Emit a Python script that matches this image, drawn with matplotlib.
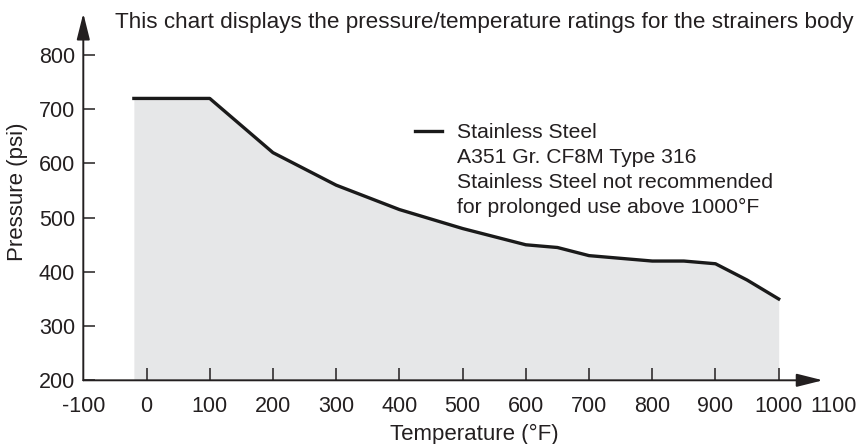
import matplotlib.pyplot as plt
from matplotlib.transforms import ScaledTranslation

plt.rcParams['font.family'] = ['Liberation Sans', 'DejaVu Sans']
plt.rcParams['axes.unicode_minus'] = False
ink = '#231f20'
plt.rcParams['text.color'] = ink
plt.rcParams['axes.labelcolor'] = ink
plt.rcParams['xtick.color'] = ink
plt.rcParams['ytick.color'] = ink

# pressure / temperature rating
temps = [-20, 100, 200, 300, 400, 500, 600, 650, 700, 800, 850, 900, 950, 1000]
psi = [720, 720, 620, 560, 515, 480, 450, 445, 430, 420, 420, 415, 385, 350]

x_ticks = [-100, 0, 100, 200, 300, 400, 500, 600, 700, 800, 900, 1000, 1100]
y_ticks = [200, 300, 400, 500, 600, 700, 800]

title = 'This chart displays the pressure/temperature ratings for the strainers body'
series_name = 'Stainless Steel'
note_lines = ['A351 Gr. CF8M Type 316',
              'Stainless Steel not recommended',
              'for prolonged use above 1000°F']

W, H = 856, 444
fig = plt.figure(figsize=(W / 100, H / 100), dpi=100)
ax = fig.add_axes([83.3 / W, 63.7 / H, 758.6 / W, 368.6 / H])

ax.fill_between(temps, psi, 200, color='#e6e7e8', lw=0)
ax.plot(temps, psi, color='#1a1a1a', lw=2.4, label=series_name)

ax.set_xlim(-100, 1100)
ax.set_ylim(200, 880)

# axes drawn as arrows instead of spines
for s in ax.spines.values():
    s.set_visible(False)
arrow = dict(arrowstyle='-|>,head_length=1.6,head_width=0.4', mutation_scale=10,
             color=ink, lw=1.4, shrinkA=0, shrinkB=0)
ax.annotate('', xy=(1070, 200), xytext=(-100, 200), arrowprops=arrow, annotation_clip=False)
ax.annotate('', xy=(-100, 877), xytext=(-100, 200), arrowprops=arrow, annotation_clip=False)

ax.set_xticks(x_ticks)
ax.set_yticks(y_ticks)
ax.tick_params(axis='x', direction='in', length=8.4, width=1.1, pad=11, labelsize=15.5)
ax.tick_params(axis='y', direction='in', length=8.6, width=1.1, pad=6, labelsize=15.5)
xt = ax.xaxis.get_major_ticks()
xt[0].tick1line.set_visible(False)
xt[-1].tick1line.set_visible(False)
# last label sits a bit left of its position, as in the original
xt[-1].label1.set_transform(xt[-1].label1.get_transform()
                            + ScaledTranslation(-8 / 100, 0, fig.dpi_scale_trans))

ax.set_xlabel('Temperature (°F)', fontsize=16)
ax.xaxis.set_label_coords(0.516, -0.119)
ax.set_ylabel('Pressure (psi)', fontsize=16, va='center')
ax.yaxis.set_label_coords(-0.0867, 0.511)

fig.text(115 / W, 1 - 28.3 / H, title, fontsize=16.2, va='baseline')

ax.legend(loc='upper left', bbox_to_anchor=(415 / W, 1 - 123 / H), bbox_transform=fig.transFigure,
          frameon=False, handlelength=1.28, handletextpad=0.71, borderpad=0, borderaxespad=0,
          fontsize=15.2)
for i, line in enumerate(note_lines):
    fig.text(457 / W, 1 - (163.3 + 25 * i) / H, line, fontsize=15.2, va='baseline')

fig.savefig('out.png', dpi=100)
